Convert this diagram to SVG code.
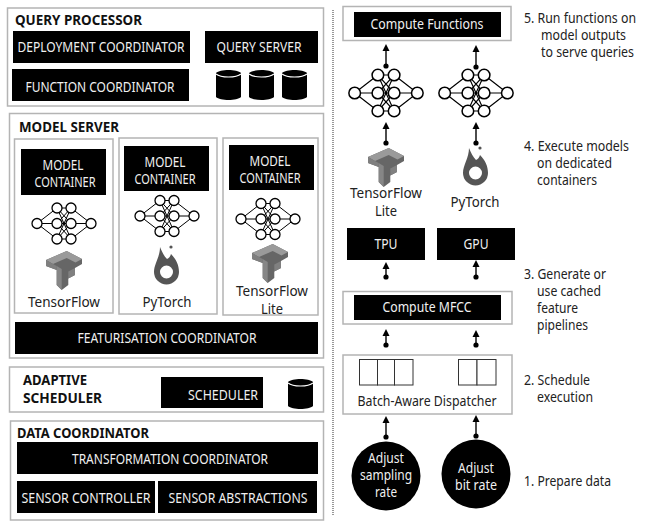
<svg xmlns="http://www.w3.org/2000/svg" width="646" height="521" viewBox="0 0 646 521">
<style>
text{font-family:"Noto Sans","Open Sans","Liberation Sans",sans-serif;font-size:13.500px;fill:#222}
.box{fill:#fff;stroke:#b4b4b4;stroke-width:1.5}
.blk{fill:#000}
.w{fill:#f0f0f0;text-anchor:middle}
.t{font-weight:700;fill:#111;font-size:13.500px}
.m{text-anchor:middle;font-size:13.500px}
.big{font-size:14.500px}
.cell{fill:#fff;stroke:#333;stroke-width:1}
.arrow{fill:none;stroke:#000;stroke-width:1.4;marker-start:url(#dot);marker-end:url(#tip)}
.n circle{fill:#fff;stroke:#000;stroke-width:1.3}
</style>
<defs>
<marker id="tip" markerUnits="userSpaceOnUse" markerWidth="8" markerHeight="8" refX="3" refY="4" orient="auto"><path d="M0 0.5L7 4L0 7.5Z" fill="#000"/></marker>
<marker id="dot" markerUnits="userSpaceOnUse" markerWidth="8" markerHeight="8" refX="4" refY="4"><circle cx="4" cy="4" r="2.600" fill="#000"/></marker>
<g id="net" class="n">
<path d="M-27 0L-7 -15.500M-27 0L-7 0M-27 0L-7 15.500M-7 -15.500L7 -15.500M-7 -15.500L7 0M-7 -15.500L7 15.500M-7 0L7 -15.500M-7 0L7 0M-7 0L7 15.500M-7 15.500L7 -15.500M-7 15.500L7 0M-7 15.500L7 15.500M7 -15.500L27 0M7 0L27 0M7 15.500L27 0" stroke="#000" stroke-width="1" fill="none"/>
<circle cx="-27" cy="0" r="5"/><circle cx="-7" cy="-15.500" r="5"/><circle cx="-7" cy="0" r="5"/><circle cx="-7" cy="15.500" r="5"/><circle cx="7" cy="-15.500" r="5"/><circle cx="7" cy="0" r="5"/><circle cx="7" cy="15.500" r="5"/><circle cx="27" cy="0" r="5"/>
</g>
<g id="tf">
<path d="M0 9L20.700 0L36 8V13L29 17V24L22.300 27.500V34L15.700 39L10.700 34V19L0 15Z" fill="#666"/>
<path d="M0 9L20.700 0L36 8L29.500 11.500L20.700 7L7 13Z" fill="#9a9a9a"/>
<path d="M0 9L7 13L10.700 15V19L0 15Z" fill="#7f7f7f"/>
<path d="M10.700 15L15.700 18V39L10.700 34Z" fill="#868686"/>
<path d="M22.300 20.500L29 17V24L22.300 27.500Z" fill="#808080"/>
</g>
<g id="pt" fill="#555">
<path fill-rule="evenodd" d="M6 2C8 7 10 11 13 14C15 13 16 12 17 9C22 14 25 20 25 27A12.500 12.500 0 0 1 0 27C0 19 6 12 6 2ZM12.500 20.500A6.500 6.500 0 1 0 12.500 33.500A6.500 6.500 0 1 0 12.500 20.500Z"/>
<circle cx="17" cy="2" r="1.600"/>
</g>
<g id="cyl">
<path d="M0 4C4 0 21 0 25 4V28C21 32 4 32 0 28Z" fill="#000"/>
<path d="M0 5C5 9 20 9 25 5" fill="none" stroke="#fff" stroke-width="1.200"/>
</g>
</defs>

<g id="query-processor">
<rect class="box" x="7.500" y="8" width="316" height="98"/>
<text class="t big" x="15" y="25" textLength="127" lengthAdjust="spacingAndGlyphs">QUERY PROCESSOR</text>
<rect class="blk" x="13" y="31" width="177" height="32"/><text class="w big" x="101" y="52" textLength="167" lengthAdjust="spacingAndGlyphs">DEPLOYMENT COORDINATOR</text>
<rect class="blk" x="205" y="31" width="113" height="32"/><text class="w big" x="259" y="52" textLength="85" lengthAdjust="spacingAndGlyphs">QUERY SERVER</text>
<rect class="blk" x="12" y="69" width="177" height="32"/><text class="w big" x="100" y="92" textLength="149" lengthAdjust="spacingAndGlyphs">FUNCTION COORDINATOR</text>
<use href="#cyl" x="216" y="69"/><use href="#cyl" x="249" y="69"/><use href="#cyl" x="282" y="69"/>
</g>

<g id="model-server">
<rect class="box" x="9.500" y="113.500" width="314" height="244.500"/>
<text class="t big" x="19" y="132" textLength="100" lengthAdjust="spacingAndGlyphs">MODEL SERVER</text>
<rect class="box" x="14.500" y="139" width="98.500" height="174"/>
<rect class="blk" x="21" y="149" width="85" height="46"/><text class="w" x="63" y="170" textLength="41" lengthAdjust="spacingAndGlyphs">MODEL</text><text class="w" x="65" y="187" textLength="61" lengthAdjust="spacingAndGlyphs">CONTAINER</text>
<use href="#net" x="64" y="223.500"/><use href="#tf" x="46" y="251"/>
<text class="m big" x="64" y="307" textLength="72" lengthAdjust="spacingAndGlyphs">TensorFlow</text>
<rect class="box" x="119" y="138" width="98" height="176"/>
<rect class="blk" x="124" y="146" width="85" height="45"/><text class="w" x="165" y="167" textLength="41" lengthAdjust="spacingAndGlyphs">MODEL</text><text class="w" x="165" y="184" textLength="61" lengthAdjust="spacingAndGlyphs">CONTAINER</text>
<use href="#net" x="167" y="216"/><use href="#pt" x="154" y="245"/>
<text class="m big" x="167" y="307" textLength="49" lengthAdjust="spacingAndGlyphs">PyTorch</text>
<rect class="box" x="223" y="138" width="95" height="177"/>
<rect class="blk" x="229" y="145" width="85" height="45"/><text class="w" x="270" y="166" textLength="41" lengthAdjust="spacingAndGlyphs">MODEL</text><text class="w" x="270" y="183" textLength="61" lengthAdjust="spacingAndGlyphs">CONTAINER</text>
<use href="#net" x="268" y="219"/><use href="#tf" x="252" y="244"/>
<text class="m" x="272" y="296" textLength="72" lengthAdjust="spacingAndGlyphs">TensorFlow</text><text class="m" x="272" y="314" textLength="22" lengthAdjust="spacingAndGlyphs">Lite</text>
<rect class="blk" x="15" y="322" width="303" height="32"/><text class="w big" x="167" y="343" textLength="179" lengthAdjust="spacingAndGlyphs">FEATURISATION COORDINATOR</text>
</g>

<g id="adaptive-scheduler">
<rect class="box" x="9.500" y="367" width="314" height="45"/>
<text class="t" x="23" y="385" textLength="64" lengthAdjust="spacingAndGlyphs">ADAPTIVE</text><text class="t" x="23" y="403" textLength="79" lengthAdjust="spacingAndGlyphs">SCHEDULER</text>
<rect class="blk" x="161" y="377" width="102" height="31"/><text class="w big" x="223" y="400" textLength="70" lengthAdjust="spacingAndGlyphs">SCHEDULER</text>
<use href="#cyl" x="288" y="378"/>
</g>

<g id="data-coordinator">
<rect class="box" x="10.500" y="421" width="313" height="99"/>
<text class="t big" x="17" y="438" textLength="132" lengthAdjust="spacingAndGlyphs">DATA COORDINATOR</text>
<rect class="blk" x="17" y="442" width="301" height="32"/><text class="w big" x="170" y="464" textLength="196" lengthAdjust="spacingAndGlyphs">TRANSFORMATION COORDINATOR</text>
<rect class="blk" x="17" y="481" width="138" height="32"/><text class="w big" x="86" y="503" textLength="129" lengthAdjust="spacingAndGlyphs">SENSOR CONTROLLER</text>
<rect class="blk" x="158" y="481" width="159" height="32"/><text class="w big" x="238" y="503" textLength="139" lengthAdjust="spacingAndGlyphs">SENSOR ABSTRACTIONS</text>
</g>

<g id="divider"><line x1="333" y1="10" x2="333" y2="516" stroke="#777" stroke-width="1.500" stroke-dasharray="1 1"/></g>

<g id="compute-functions">
<rect class="box" x="343" y="6.500" width="168" height="34"/>
<rect class="blk" x="354" y="12" width="147" height="25"/><text class="w big" x="427" y="29" textLength="113" lengthAdjust="spacingAndGlyphs">Compute Functions</text>
</g>
<g id="net-left"><use href="#net" transform="translate(386 93) scale(1.16)"/></g>
<g id="net-right"><use href="#net" transform="translate(476 93) scale(1.16)"/></g>
<g id="tf-right"><use href="#tf" x="368" y="148"/><text class="m" x="386" y="198" textLength="72" lengthAdjust="spacingAndGlyphs">TensorFlow</text><text class="m" x="386" y="216" textLength="22" lengthAdjust="spacingAndGlyphs">Lite</text></g>
<g id="pt-right"><use href="#pt" x="463" y="146"/><text class="m big" x="475" y="207" textLength="49" lengthAdjust="spacingAndGlyphs">PyTorch</text></g>
<g id="tpu"><rect class="blk" x="347" y="228" width="78" height="32"/><text class="w big" x="386" y="249" textLength="23" lengthAdjust="spacingAndGlyphs">TPU</text></g>
<g id="gpu"><rect class="blk" x="437" y="228" width="78" height="32"/><text class="w big" x="476" y="249" textLength="25" lengthAdjust="spacingAndGlyphs">GPU</text></g>
<g id="compute-mfcc">
<rect class="box" x="343" y="291.500" width="169" height="32.500"/>
<rect class="blk" x="354" y="295" width="147" height="25"/><text class="w big" x="427" y="312" textLength="89" lengthAdjust="spacingAndGlyphs">Compute MFCC</text>
</g>
<g id="dispatcher">
<rect class="box" x="343" y="355" width="169" height="59"/>
<rect class="cell" x="359.500" y="359.500" width="18" height="25.500"/><rect class="cell" x="377.500" y="359.500" width="17" height="25.500"/><rect class="cell" x="394.500" y="359.500" width="18.500" height="25.500"/>
<rect class="cell" x="458.500" y="359.500" width="18.500" height="25.500"/><rect class="cell" x="477" y="359.500" width="19" height="25.500"/>
<text class="m big" x="427" y="406" textLength="139" lengthAdjust="spacingAndGlyphs">Batch-Aware Dispatcher</text>
</g>
<g id="adjust-sampling"><circle cx="386" cy="476" r="34.500" fill="#000"/><text class="w" x="386" y="463" textLength="36" lengthAdjust="spacingAndGlyphs">Adjust</text><text class="w" x="386" y="480" textLength="52" lengthAdjust="spacingAndGlyphs">sampling</text><text class="w" x="386" y="497" textLength="22" lengthAdjust="spacingAndGlyphs">rate</text></g>
<g id="adjust-bit"><circle cx="476" cy="474" r="34.500" fill="#000"/><text class="w" x="476" y="473" textLength="36" lengthAdjust="spacingAndGlyphs">Adjust</text><text class="w" x="476" y="490" textLength="42" lengthAdjust="spacingAndGlyphs">bit rate</text></g>

<g id="connectors">
<path class="arrow" d="M386 66V48"/><path class="arrow" d="M476 67V49"/>
<path class="arrow" d="M386 143V126"/><path class="arrow" d="M476 143V126"/>
<path class="arrow" d="M386 277V266"/><path class="arrow" d="M476 277V264"/>
<path class="arrow" d="M386 345V333"/><path class="arrow" d="M476 345V334"/>
<path class="arrow" d="M386 437V420"/><path class="arrow" d="M476 436V419"/>
</g>

<g id="steps">
<text x="524" y="23" textLength="112" lengthAdjust="spacingAndGlyphs">5. Run functions on</text><text x="541" y="40" textLength="85" lengthAdjust="spacingAndGlyphs">model outputs</text><text x="541" y="57" textLength="93" lengthAdjust="spacingAndGlyphs">to serve queries</text>
<text x="524" y="151" textLength="105" lengthAdjust="spacingAndGlyphs">4. Execute models</text><text x="537" y="168" textLength="75" lengthAdjust="spacingAndGlyphs">on dedicated</text><text x="537" y="185" textLength="60" lengthAdjust="spacingAndGlyphs">containers</text>
<text x="524" y="279" textLength="82" lengthAdjust="spacingAndGlyphs">3. Generate or</text><text x="537" y="296" textLength="64" lengthAdjust="spacingAndGlyphs">use cached</text><text x="537" y="313" textLength="41" lengthAdjust="spacingAndGlyphs">feature</text><text x="537" y="330" textLength="51" lengthAdjust="spacingAndGlyphs">pipelines</text>
<text x="524" y="385" textLength="66" lengthAdjust="spacingAndGlyphs">2. Schedule</text><text x="537" y="402" textLength="56" lengthAdjust="spacingAndGlyphs">execution</text>
<text x="524" y="486" textLength="87" lengthAdjust="spacingAndGlyphs">1. Prepare data</text>
</g>
</svg>
